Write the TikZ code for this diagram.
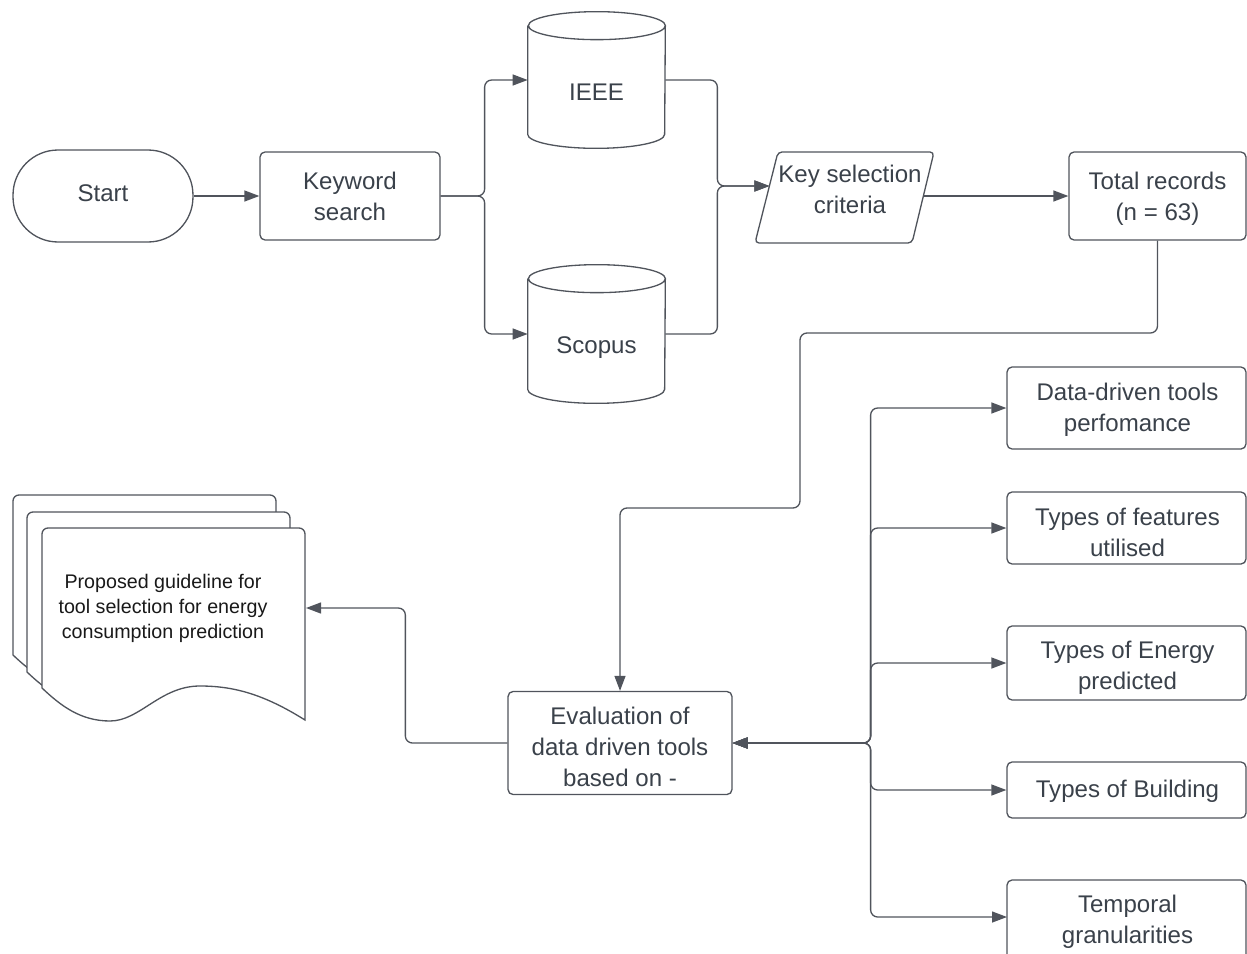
\documentclass[tikz,border=0pt]{standalone}
\usepackage{fontspec}
\setmainfont{Liberation Sans}
\usetikzlibrary{arrows.meta}
\definecolor{ln}{HTML}{50545C}
\definecolor{tx}{HTML}{3A414A}
\newcommand\cylshape[1]{%
  \draw[ln, line width=0.75pt] ([yshift=-0.28cm]#1.north west) -- ([yshift=0.28cm]#1.south west)
    arc[start angle=180,end angle=360,x radius=1.37cm,y radius=0.28cm]
    -- ([yshift=-0.28cm]#1.north east)
    arc[start angle=0,end angle=180,x radius=1.37cm,y radius=0.28cm]
    arc[start angle=180,end angle=360,x radius=1.37cm,y radius=0.28cm];}
\newcommand\docpage[2]{%
  \draw[ln, line width=0.75pt, fill=white, shift={(#1,#2)}]
    (42,688) -- (42,534) arc[start angle=180,end angle=90,radius=0.12cm]
    -- (299,528) arc[start angle=90,end angle=0,radius=0.12cm]
    -- (305,720)
    .. controls (265,695) and (235,686) .. (200,686)
    .. controls (160,686) and (140,721) .. (110,721)
    .. controls (80,721) and (60,705) .. (42,688) -- cycle;}
\begin{document}
\begin{tikzpicture}[x=0.02cm,y=-0.02cm,
  every node/.style={font=\fontsize{13.7pt}{17.6pt}\selectfont, text=tx, align=center, inner sep=0pt},
  box/.style={draw=ln, line width=0.75pt, rounded corners=0.1cm, fill=white},
  conn/.style={draw=ln, line width=0.75pt, rounded corners=0.14cm, -{Triangle[length=0.3cm,width=0.22cm]}},
  biconn/.style={conn, {Triangle[length=0.3cm,width=0.22cm]}-{Triangle[length=0.3cm,width=0.22cm]}},
  doctext/.style={font=\fontsize{11.2pt}{14.2pt}\selectfont, text=black!90},
]
\useasboundingbox (0,0) rectangle (1247,953);

% top row
\node[box, minimum width=3.6cm, minimum height=1.84cm, rounded corners=0.9cm] (start) at (103,196) {};
\node (startl) at (103,193) {Start};
\node[box, minimum width=3.6cm, minimum height=1.76cm] (kw) at (350,196) {};
\node (kwl) at (350,196) {Keyword\\search};

\node[minimum width=2.74cm, minimum height=2.72cm] (ieee) at (596.5,80) {};
\cylshape{ieee}
\node (ieeelbl) at ([yshift=-0.24cm]ieee.center) {IEEE};

\node[minimum width=2.74cm, minimum height=2.76cm] (scopus) at (596.5,334) {};
\cylshape{scopus}
\node (scopuslbl) at ([yshift=-0.28cm]scopus.center) {Scopus};

% key selection parallelogram
\coordinate (kstl) at (778,152);
\coordinate (kstr) at (934,152);
\coordinate (ksbr) at (912,243);
\coordinate (ksbl) at (755,243);
\draw[ln, line width=0.75pt, rounded corners=0.08cm] (kstl) -- (kstr) -- (ksbr) -- (ksbl) -- cycle;
\node (ks) at (850,189) {Key selection\\criteria};
\coordinate (ksin) at (769.4,186);
\coordinate (ksout) at (923.4,196);

\node[box, minimum width=3.54cm, minimum height=1.76cm] (tot) at (1157.5,196) {};
\node (totl) at (1157.5,199) {Total records\\(n = 63)};

% evaluation
\node[box, minimum width=4.48cm, minimum height=2.06cm] (eval) at (620,743) {};
\node (evall) at (620,747) {Evaluation of\\data driven tools\\based on -};

% right boxes
\node[box, minimum width=4.78cm, minimum height=1.64cm] (b1) at (1126.5,408) {};
\node (b1l) at (1127.5,410) {Data-driven tools\\perfomance};
\node[box, minimum width=4.78cm, minimum height=1.44cm] (b2) at (1126.5,528) {};
\node (b2l) at (1127.5,532) {Types of features\\utilised};
\node[box, minimum width=4.78cm, minimum height=1.48cm] (b3) at (1126.5,663) {};
\node (b3l) at (1127.5,668) {Types of Energy\\predicted};
\node[box, minimum width=4.78cm, minimum height=1.12cm] (b4) at (1126.5,790) {};
\node (b4l) at (1127.5,791) {Types of Building};
\node[box, minimum width=4.78cm, minimum height=1.76cm] (b5) at (1126.5,924) {};
\node (b5l) at (1127.5,922) {Temporal\\granularities};
\coordinate (b5in) at (1007,917);

% document stack
\docpage{-29}{-33}
\docpage{-15}{-16}
\docpage{0}{0}
\node[doctext] (doc) at (163,608) {Proposed guideline for\\tool selection for energy\\consumption prediction};
\coordinate (docin) at (306,608);

% connectors
\draw[conn] (start) -- (kw);
\draw[conn] (kw.east) -- ++(44,0) |- (ieee.west);
\draw[conn] (kw.east) -- ++(44,0) |- (scopus.west);
\draw[conn] (ieee.east) -- ++(52,0) |- (ksin);
\draw[conn] (scopus.east) -- ++(52,0) |- (ksin);
\draw[conn] (ksout) -- (tot.west |- ksout);
\coordinate (w1) at (800,333);
\coordinate (w2) at (620,508);
\draw[conn] (tot.south) |- (w1) |- (w2) -- (eval.north);
\draw[conn] (eval.west) -- ++(-102,0) |- (docin);
\foreach \b in {b1,b2,b3,b4}{
  \draw[biconn] (eval.east) -- ++(138,0) |- (\b.west);
}
\draw[biconn] (eval.east) -- ++(138,0) |- (b5in);
\end{tikzpicture}
\end{document}
